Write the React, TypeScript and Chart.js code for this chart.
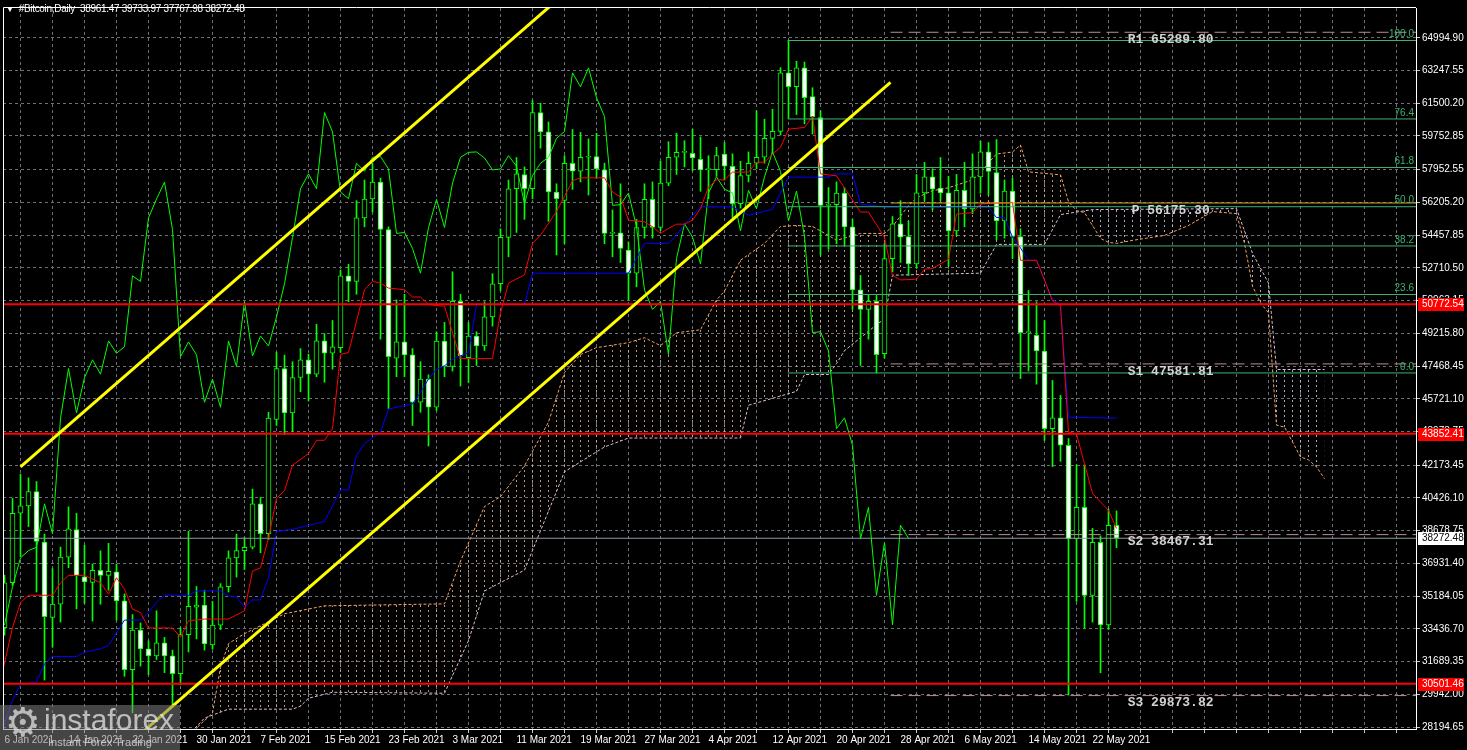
import React, { useEffect, useRef } from 'react';
import { Chart, registerables } from 'chart.js';

Chart.register(...registerables);

// ---- candles (daily, index 0 = 6 Jan 2021) ----
const opens = [33500,35898,39610,40002,40761,38075,34043,34752,37262,38730,36220,35920,36556,36290,36485,34927,31252,33373,32365,31994,32683,31994,31040,33125,34600,34700,32577,33638,35686,37226,37615,37791,40110,38518,44616,47336,44969,46858,47797,47034,48808,48150,48450,52283,51984,55378,56386,57288,54760,47883,48755,48067,45533,46770,45268,48805,47443,50925,47920,49071,48540,50094,51860,54336,56935,57694,56935,61002,59973,56759,56314,58297,57872,58615,58650,57943,54548,54584,53663,52426,54866,56367,54866,57236,58615,58880,58827,58509,57960,57960,58790,58138,56139,57640,58297,58615,59623,59994,63123,62380,63388,61850,60737,56050,56086,56706,54903,51536,50491,50926,48135,53207,55068,54384,52920,56717,57571,56966,56717,54686,56850,55864,57571,58902,57800,55217,56813,54384,49256,49110,48270,44129,44701,43238,38248,39918,35225,38056,33650,38961.47];
const highs = [36300,40400,41700,41500,41300,38500,36650,37800,39950,39600,37900,36900,37600,38000,36900,35300,34200,33750,32800,34400,32980,32300,33500,38650,35700,35500,34900,35850,37600,38500,38300,40900,40450,45000,48200,48050,47700,48400,48100,49700,49200,49900,52600,52900,56300,57400,58300,57500,54900,51000,51300,48400,47700,47000,49300,49800,52500,51300,49800,49300,50900,52400,54800,57400,58600,58100,61650,61500,60500,57200,58700,60100,59950,59600,59900,58300,55800,57200,54100,55300,57200,57300,58400,59450,59900,59500,60100,59700,58700,59150,59400,58800,58400,58900,61100,60650,61180,63400,64850,63740,63700,62330,61100,57000,57300,57000,55300,52300,51300,51200,54000,55450,56300,55200,57700,58340,58000,58600,57600,57700,58340,58800,59470,59400,59560,57400,57500,54800,51500,50900,49900,46700,45900,43600,42200,42190,38800,38400,39820,39733.97];
const lows = [33100,35750,37300,38900,35400,30700,32450,33800,36700,34500,34800,33850,34750,35500,33900,30900,28950,31450,31000,31800,31100,29350,30450,32200,32900,32300,32350,33400,35400,36200,36600,37700,37500,38200,44300,43800,43950,46100,45600,46900,46600,47300,48200,50900,51300,54900,55700,48900,45200,46900,46900,44300,45000,43200,45100,46900,47200,46400,46600,47500,48300,49600,51500,53300,54600,55300,56400,59100,55200,53400,54000,56900,57300,56600,57500,54000,53300,53000,51000,51700,54300,54300,54700,57100,57700,58100,57900,56800,56400,57600,57400,55400,55900,57300,58000,58300,58800,59800,60700,60900,60400,59850,53400,53700,54000,53900,50500,47500,48900,47100,47900,52500,53000,52300,52700,56300,55800,56300,52800,54400,54900,55600,56700,56600,54200,54300,53200,46800,47200,46500,43500,42100,42380,29900,34900,33460,33800,31090,33400,37767.98];
const closes = [35898,39610,40002,40761,38110,34080,34752,37262,38783,36290,35937,36556,36290,36503,34927,31252,33373,32365,31994,32683,31994,31040,33125,34645,34700,32630,33638,35686,37226,37615,37791,40110,38518,44685,47336,44969,46858,47797,47034,48808,48150,48500,52283,51984,55378,56386,57288,54760,47972,48755,48067,45533,46770,45268,48805,47443,50925,48010,49071,48540,50094,51860,54336,56935,57730,56935,61002,59973,56759,56404,58297,57872,58615,58650,57995,54548,54600,53752,52426,54866,56367,54866,57236,58615,58880,58900,58580,57943,57990,58703,58138,56139,57640,58297,58615,59623,59994,63123,62380,63388,61797,60790,56050,56086,56706,54903,51536,50491,50926,48079,53207,55068,54347,52920,56717,57571,56908,56717,54686,56850,55864,57571,58902,57857,55217,56813,54384,49256,49300,48270,44129,44701,43238,38248,39918,35225,38056,33650,38961,38272.48];

// ---- axes ----
const xTickLabels = ['6 Jan 2021','14 Jan 2021','22 Jan 2021','30 Jan 2021','7 Feb 2021','15 Feb 2021','23 Feb 2021','3 Mar 2021','11 Mar 2021','19 Mar 2021','27 Mar 2021','4 Apr 2021','12 Apr 2021','20 Apr 2021','28 Apr 2021','6 May 2021','14 May 2021','22 May 2021'];
const yTicks = [64994.90,63247.55,61500.20,59752.85,57952.55,56205.20,54457.85,52710.50,50963.15,49215.80,47468.45,45721.10,43973.75,42173.45,40426.10,38678.75,36931.40,35184.05,33436.70,31689.35,29942.00,28194.65];

// ---- Ichimoku ([day index, price]) ----
const tenkan = [[-0.2,31217],[1,33512],[2,34838],[3,35230],[6,35230],[7,35898],[8,36291],[10,36291],[12,35898],[13,35284],[14,36164],[15,35549],[16,34489],[17,34309],[18,33481],[21,33481],[22,32983],[23,33869],[25,33958],[28,33958],[30,34399],[31,36520],[32,36695],[33,38286],[34,40407],[35,40815],[36,42178],[38,42793],[39,43503],[40,43503],[41,44119],[42,48095],[43,48186],[45,51542],[46,51988],[47,51897],[48,51632],[50,51542],[51,51155],[52,51155],[53,50747],[55,50662],[56,49246],[57,47867],[61,47867],[62,50307],[63,51897],[65,52338],[66,54018],[67,54459],[69,55714],[71,57359],[72,57518],[75,57518],[76,56760],[77,56495],[78,55254],[80,55169],[81,54904],[82,54549],[83,54814],[84,55042],[85,55042],[86,55254],[87,55874],[88,57025],[89,57412],[90,57412],[91,57821],[93,57821],[94,58351],[95,58351],[96,58791],[97,59146],[98,60116],[100,60207],[101,60806],[102,57730],[104,57624],[107,55689],[108,55689],[110,54337],[111,52300],[112,52067],[114,52104],[115,52640],[116,52677],[118,53170],[119,55577],[121,55662],[122,56113],[123,56150],[126,56208],[127,53116],[129,53116],[130,52056],[131,50943],[132,50678],[133,43943],[134,43837],[135,42246],[136,40671],[138,39754],[139,38799]];
const kijun = [[-0.2,28100],[1,29626],[2,30474],[4,30596],[5,31572],[6,31959],[9,31959],[10,32187],[12,32367],[13,32543],[15,33905],[17,33905],[18,34309],[19,34839],[20,35230],[23,35230],[24,35459],[27,35459],[28,35194],[29,35140],[30,34573],[31,34981],[32,34981],[33,36164],[34,38641],[36,38747],[40,39171],[41,40000],[42,40852],[43,40852],[44,42707],[45,43322],[47,43943],[48,45178],[51,45444],[52,46065],[53,46770],[54,47300],[55,47481],[56,47831],[58,48186],[59,50747],[65,50747],[66,52428],[78,52428],[80,54018],[83,54018],[84,54459],[85,55042],[87,55965],[91,55965],[93,55519],[96,55837],[98,57555],[103,57555],[104,57730],[106,57730],[107,56113],[110,55959],[123,55959],[124,55397],[125,55397],[126,54347],[127,53774],[128,53111],[129,53111],[130,52067],[131,51022],[132,50747],[133,44739],[139,44686]];
const spanA = [[20,24324],[24,28142],[26,28937],[27,31377],[28,32649],[30,33180],[32,33603],[35,34240],[40,34664],[55,34770],[57,37050],[60,39966],[62,40497],[65,42140],[68,44474],[70,47125],[72,48080],[74,48451],[78,48716],[80,48981],[82,48557],[84,49246],[87,49405],[89,50996],[90,51473],[92,53117],[95,54018],[97,54920],[99,54973],[101,54920],[103,54443],[104,54178],[107,54549],[110,54549],[111,54920],[113,56033],[114,56457],[116,56829],[118,56988],[121,57412],[122,57784],[123,58314],[124,58791],[126,58897],[127,59268],[128,57836],[132,57677],[133,56245],[134,55768],[135,55662],[137,54284],[138,54071],[139,54018],[141,54178],[145,54443],[148,54973],[151,55715],[154,55609],[155,54018],[156,51738],[157,50837],[158,50307],[159,44315],[160,44209],[161,43414],[162,42618],[163,42459],[164,42088],[165,41452]];
const spanB = [[20,25384],[23,27771],[25,28670],[28,29148],[36,29148],[37,29307],[38,29731],[41,30050],[55,30000],[58,32807],[60,35459],[65,36572],[70,41822],[75,43148],[78,43625],[92,43625],[93,45375],[99,46117],[100,47016],[103,47016],[104,47600],[105,48290],[107,48981],[109,49670],[110,49988],[111,52320],[122,52427],[124,53965],[130,53965],[132,55556],[136,55822],[154,55874],[156,53488],[158,51897],[159,47284],[165,47284]];
const chikouShift = 26;

// ---- drawn objects ----
const redLevels = [50772.54, 43852.41, 30501.46];
const bidPrice = 38272.48;
const pivotNames = ['R1', 'P', 'S1', 'S2', 'S3'];
const pivotLevels = [65289.80, 56175.30, 47581.81, 38467.31, 29873.82];
const pivotStart = 110.75;
const fibRatios = [100.0, 76.4, 61.8, 50.0, 38.2, 23.6, 0.0];
const fibHigh = 64850;
const fibLow = 47100;
const fibStart = 97.9;
const channelUpper = [[2, 42088], [74.5, 69025]];
const channelLower = [[17, 27824], [110.75, 62609]];

const X_MIN = -0.1875;
const X_MAX = 176.4375;
const Y_MIN = 28088.6;
const Y_MAX = 66585.7;

function makePattern(color: string) {
  const c = document.createElement('canvas');
  c.width = 8;
  c.height = 5;
  const g = c.getContext('2d')!;
  g.fillStyle = color;
  g.fillRect(4, 0, 1, 2);
  return g.createPattern(c, 'repeat')!;
}

const pts = (a: number[][]) => a.map(([x, y]) => ({ x, y }));
const hline = (v: number, from: number) => [{ x: from, y: v }, { x: X_MAX + 5, y: v }];

export default function App() {
  const ref = useRef<HTMLCanvasElement>(null);

  useEffect(() => {
    const canvas = ref.current!;
    const idx = closes.map((_, i) => i);
    const orangeHatch = makePattern('rgba(244,180,130,0.8)');
    const thistleHatch = makePattern('rgba(216,191,216,0.85)');

    const lineBase = { type: 'line' as const, pointRadius: 0, tension: 0, fill: false };

    const datasets: any[] = [
      { ...lineBase, data: pts(channelUpper), borderColor: '#FFFF00', borderWidth: 3, order: 0 },
      { ...lineBase, data: pts(channelLower), borderColor: '#FFFF00', borderWidth: 3, order: 0 },
      ...redLevels.map((v) => ({ ...lineBase, data: hline(v, X_MIN - 5), borderColor: '#FF0000', borderWidth: 2, order: 1 })),
      { ...lineBase, data: hline(bidPrice, X_MIN - 5), borderColor: '#8C9AA8', borderWidth: 1, order: 2 },
      ...pivotLevels.map((v, k) => ({
        ...lineBase,
        data: hline(v, pivotStart),
        borderColor: pivotNames[k] === 'P' ? '#DAA520' : '#B98E8A',
        borderWidth: 1,
        borderDash: pivotNames[k] === 'P' ? [] : [12, 6],
        order: 3,
      })),
      ...fibRatios.map((r) => ({
        ...lineBase,
        data: hline(fibLow + (fibHigh - fibLow) * r / 100, fibStart),
        borderColor: '#3CB371',
        borderWidth: 1,
        order: 3,
      })),
      { ...lineBase, data: pts(tenkan), borderColor: '#FF0000', borderWidth: 1, order: 4 },
      { ...lineBase, data: pts(kijun), borderColor: '#0000FF', borderWidth: 1, order: 4 },
      {
        ...lineBase,
        data: closes.slice(chikouShift).map((c, k) => ({ x: k, y: c })),
        borderColor: '#00FF00',
        borderWidth: 1,
        order: 4,
      },
      {
        type: 'bar',
        data: idx.map((i) => ({ x: i, y: [opens[i], closes[i]] })),
        backgroundColor: idx.map((i) => (closes[i] > opens[i] ? '#000000' : '#FFFFFF')),
        borderColor: '#00FF00',
        borderWidth: 1,
        borderSkipped: false,
        barThickness: 5,
        minBarLength: 1,
        grouped: false,
        order: 5,
      },
      {
        type: 'bar',
        data: idx.map((i) => ({ x: i, y: [lows[i], highs[i]] })),
        backgroundColor: '#00FF00',
        borderWidth: 0,
        barThickness: 1,
        grouped: false,
        order: 6,
      },
      {
        ...lineBase,
        data: pts(spanA),
        borderColor: 'rgba(244,164,96,1)',
        borderWidth: 1,
        borderDash: [3, 2],
        fill: { target: '+1', above: orangeHatch, below: thistleHatch },
        order: 7,
      },
      { ...lineBase, data: pts(spanB), borderColor: 'rgba(216,191,216,1)', borderWidth: 1, borderDash: [3, 2], order: 7 },
    ];

    const overlay = {
      id: 'overlay',
      beforeDraw(chart: any) {
        const ctx = chart.ctx;
        ctx.save();
        ctx.fillStyle = '#000';
        ctx.fillRect(0, 0, chart.width, chart.height);
        ctx.restore();
      },
      afterDraw(chart: any) {
        const ctx = chart.ctx;
        const xs = chart.scales.x;
        const ys = chart.scales.y;
        const area = chart.chartArea;
        ctx.save();
        ctx.strokeStyle = '#FFFFFF';
        ctx.lineWidth = 1;
        ctx.beginPath();
        ctx.moveTo(area.left + 0.5, area.bottom);
        ctx.lineTo(area.left + 0.5, area.top - 0.5);
        ctx.lineTo(area.right, area.top - 0.5);
        ctx.stroke();
        ctx.font = 'bold 13px "Liberation Mono", "DejaVu Sans Mono", monospace';
        ctx.fillStyle = '#D2D2D2';
        ctx.textBaseline = 'top';
        ctx.textAlign = 'left';
        pivotLevels.forEach((v, k) => {
          const xp = xs.getPixelForValue(pivotNames[k] === 'P' ? 140.9 : 140.4);
          ctx.fillText(`${pivotNames[k]} ${v.toFixed(2)}`, xp, ys.getPixelForValue(v) + 1);
        });
        ctx.font = '10px "Liberation Sans", Arial, sans-serif';
        ctx.fillStyle = '#3CB371';
        ctx.textAlign = 'right';
        ctx.textBaseline = 'bottom';
        fibRatios.forEach((r) => {
          const v = fibLow + (fibHigh - fibLow) * r / 100;
          ctx.fillText(r.toFixed(1), area.right - 2, ys.getPixelForValue(v) - 1);
        });
        ctx.textAlign = 'left';
        ctx.textBaseline = 'middle';
        ctx.font = '10px "Liberation Sans", Arial, sans-serif';
        const box = (v: number, bg: string, fg: string) => {
          const yp = Math.round(ys.getPixelForValue(v));
          ctx.fillStyle = bg;
          ctx.fillRect(area.right + 2, yp - 6, 46, 13);
          ctx.fillStyle = fg;
          ctx.fillText(v.toFixed(2), area.right + 6, yp + 0.5);
        };
        redLevels.forEach((v) => box(v, '#FF0000', '#FFFFFF'));
        box(bidPrice, '#FFFFFF', '#000000');
        ctx.restore();
      },
    };

    const chart = new Chart(canvas, {
      type: 'bar',
      data: { datasets },
      options: {
        animation: false,
        responsive: false,
        events: [],
        layout: { padding: { left: 3, top: 3, right: 0, bottom: 0 } },
        plugins: { legend: { display: false }, tooltip: { enabled: false } },
        scales: {
          x: {
            type: 'linear',
            min: X_MIN,
            max: X_MAX,
            offset: false,
            afterBuildTicks: (scale: any) => {
              const t: any[] = [];
              for (let v = 0; v <= X_MAX; v += 4) t.push({ value: v });
              scale.ticks = t;
            },
            afterFit: (scale: any) => {
              scale.height = 21;
            },
            grid: { color: '#6E6E78', lineWidth: 1, tickLength: 4, tickColor: '#C8C8C8', drawTicks: true },
            border: { display: true, color: '#FFFFFF', width: 1, dash: [3, 3] },
            ticks: {
              autoSkip: false,
              maxRotation: 0,
              align: 'start',
              padding: 1,
              color: '#FFFFFF',
              font: { family: '"Liberation Sans", Arial, sans-serif', size: 10 },
              callback: (value: any) => {
                const v = Math.round(Number(value));
                return v % 8 === 0 && v / 8 < xTickLabels.length ? xTickLabels[v / 8] : '';
              },
            },
          },
          y: {
            type: 'linear',
            position: 'right',
            min: Y_MIN,
            max: Y_MAX,
            afterBuildTicks: (scale: any) => {
              scale.ticks = yTicks.map((v) => ({ value: v }));
            },
            afterFit: (scale: any) => {
              scale.width = 51;
            },
            grid: { color: '#6E6E78', lineWidth: 1, tickLength: 4, tickColor: '#C8C8C8', drawTicks: true },
            border: { display: true, color: '#FFFFFF', width: 1, dash: [3, 3] },
            ticks: {
              autoSkip: false,
              padding: 2,
              color: '#FFFFFF',
              font: { family: '"Liberation Sans", Arial, sans-serif', size: 10 },
              callback: (value: any) => Number(value).toFixed(2),
            },
          },
        },
      } as any,
      plugins: [overlay],
    });
    return () => chart.destroy();
  }, []);

  const last = closes.length - 1;
  const title = `#Bitcoin,Daily  ${opens[last].toFixed(2)} ${highs[last].toFixed(2)} ${lows[last].toFixed(2)} ${closes[last].toFixed(2)}`;

  return (
    <div style={{ position: 'fixed', left: 0, top: 0, width: 1467, height: 750, background: '#000', overflow: 'hidden' }}>
      <canvas ref={ref} width={1467} height={750} style={{ position: 'absolute', left: 0, top: 0 }} />
      <div style={{ position: 'absolute', left: 6, top: 3, color: '#FFFFFF', font: '10px "Liberation Sans", Arial, sans-serif', letterSpacing: '-0.3px', whiteSpace: 'pre' }}>
        <span style={{ fontSize: 8, marginRight: 5 }}>▼</span>
        {title}
      </div>
      <div style={{ position: 'absolute', left: 0, top: 705, width: 180, height: 45, background: 'rgba(125,125,125,0.55)', fontFamily: '"Liberation Sans", Arial, sans-serif' }}>
        <span style={{ position: 'absolute', left: 5, top: -6, fontSize: 40, color: 'rgba(225,225,225,0.75)', fontFamily: '"DejaVu Sans", sans-serif' }}>⚙</span>
        <span style={{ position: 'absolute', left: 44, top: 0, fontSize: 30, lineHeight: '30px', color: 'rgba(230,230,230,0.75)' }}>instaforex</span>
        <span style={{ position: 'absolute', left: 48, top: 31, fontSize: 11, color: 'rgba(230,230,230,0.75)' }}>Instant Forex Trading</span>
      </div>
    </div>
  );
}
